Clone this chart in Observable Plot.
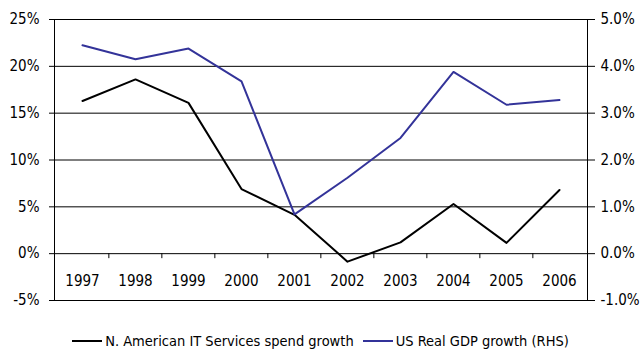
<!DOCTYPE html>
<html><head><meta charset="utf-8">
<script src="https://cdn.jsdelivr.net/npm/d3@7"></script>
<script src="https://cdn.jsdelivr.net/npm/@observablehq/plot@0.6"></script>
<style>
body{margin:0;background:#fff;}
#chart{width:641px;height:351px;font-family:"DejaVu Sans Condensed","Liberation Sans Narrow","Arial Narrow",sans-serif;color:#000;}
.legend{display:flex;justify-content:center;align-items:center;height:26px;font-size:14.5px;margin-top:8px;}
.item{display:flex;align-items:center;}
.swatch{display:inline-block;width:30px;height:2px;margin-right:3px;}
.item + .item{margin-left:9px;}
</style></head>
<body><div id="chart"></div>
<script>
const years = ["1997","1998","1999","2000","2001","2002","2003","2004","2005","2006"];
const itSpend = [16.3, 18.6, 16.1, 6.9, 4.15, -0.85, 1.2, 5.3, 1.15, 6.8];   // left axis, %
const gdp = [4.45, 4.15, 4.38, 3.68, 0.84, 1.62, 2.47, 3.88, 3.18, 3.28];      // right axis, %
const leftTicks = [-5, 0, 5, 10, 15, 20, 25];
const rightScale = 5; // left units per right unit (25% <-> 5.0%)
const seriesNames = ["N. American IT Services spend growth", "US Real GDP growth (RHS)"];
const seriesColors = ["#000000", "#333399"];

const W = 641, H = 320, ML = 54, MR = 54, MT = 19, MB = 20;
const step = (W - ML - MR) / years.length;
const font = '"DejaVu Sans Condensed","Liberation Sans Narrow","Arial Narrow",sans-serif';
const fs = 15;

const chart = Plot.plot({
  width: W, height: H,
  marginLeft: ML, marginRight: MR, marginTop: MT, marginBottom: MB,
  x: {type: "point", domain: years, padding: 0.5, axis: null},
  y: {domain: [-5, 25], axis: null},
  style: {fontFamily: font, fontSize: fs + "px", color: "#000", background: "#fff"},
  marks: [
    Plot.ruleY(leftTicks, {stroke: "#000", strokeWidth: 1}),
    Plot.frame({stroke: "#000"}),
    Plot.axisY(leftTicks, {anchor: "left", tickSize: 5, tickPadding: 10, tickFormat: d => d + "%", fontSize: fs}),
    Plot.axisY(leftTicks, {anchor: "right", tickSize: 7, tickPadding: 6, tickFormat: d => (d / rightScale).toFixed(1) + "%", fontSize: fs}),
    Plot.ruleX(years.slice(1), {x: d => d, y1: 0, y2: 0, insetBottom: -5, dx: -step / 2, stroke: "#000"}),
    Plot.text(years, {x: d => d, frameAnchor: "bottom", dy: -19, lineAnchor: "middle", fontSize: fs}),
    Plot.lineY(years, {x: d => d, y: (d, i) => itSpend[i], stroke: seriesColors[0], strokeWidth: 2}),
    Plot.lineY(years, {x: d => d, y: (d, i) => gdp[i] * rightScale, stroke: seriesColors[1], strokeWidth: 2})
  ]
});
const root = document.getElementById("chart");
root.appendChild(chart);
const legend = document.createElement("div");
legend.className = "legend";
seriesNames.forEach((n, i) => {
  const it = document.createElement("span");
  it.className = "item";
  const sw = document.createElement("span");
  sw.className = "swatch";
  sw.style.background = seriesColors[i];
  const t = document.createElement("span");
  t.textContent = n;
  it.appendChild(sw); it.appendChild(t);
  legend.appendChild(it);
});
root.appendChild(legend);
</script></body></html>
